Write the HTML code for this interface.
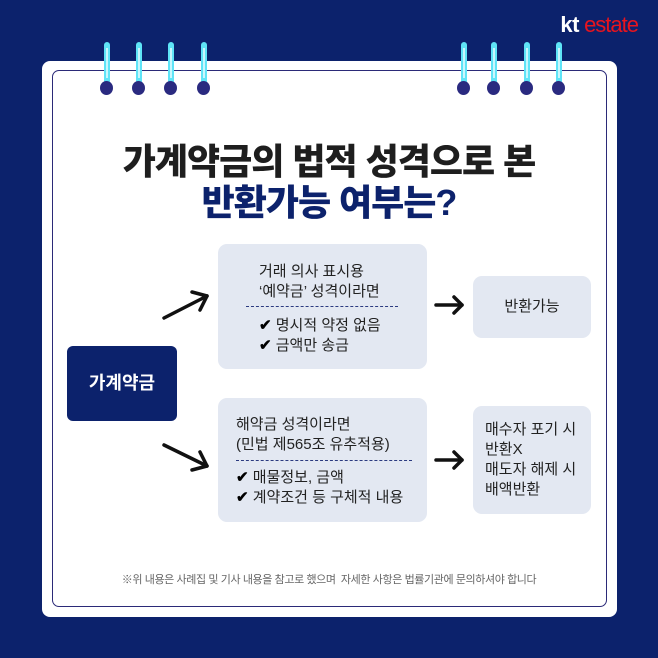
<!DOCTYPE html>
<html><head><meta charset="utf-8"><style>
body{margin:0;width:658px;height:658px;background:#0c226c;position:relative;overflow:hidden;font-family:"Liberation Sans","Noto Sans CJK KR",sans-serif}
.a{position:absolute}
.card{left:42px;top:61px;width:575px;height:556px;background:#fff;border-radius:8px}
.inner{left:52px;top:70px;width:553px;height:535px;border:1.5px solid #2b2a78;border-radius:7px}
.post{width:6px;height:46px;background:#5fe4f7;border-radius:3px;top:42px}
.post::after{content:"";position:absolute;left:2px;top:6px;width:2px;height:30px;background:#c8f6fd}
.ring{width:13px;height:14px;border-radius:50%;background:#2a2a80;top:81px}
.t{left:0;width:658px;text-align:center;font-weight:900;font-size:36px;letter-spacing:-1px}
.box{background:#e3e8f2;border-radius:9px}
.txt{font-size:15px;color:#222;line-height:20px}
.dash{border-top:1.5px dashed #2b3a80}
.ck{color:#000;font-weight:bold}
</style></head><body>
<div class="a" style="right:20px;top:12px;font-size:22px;font-weight:bold;letter-spacing:-0.5px"><span style="color:#fff">kt</span><span style="color:#e8141e;font-weight:normal;letter-spacing:-1px"> estate</span></div>
<div class="a card"></div>
<div class="a inner"></div>
<div class="a post" style="left:104px"></div><div class="a post" style="left:136px"></div><div class="a post" style="left:168px"></div><div class="a post" style="left:201px"></div>
<div class="a post" style="left:461px"></div><div class="a post" style="left:491px"></div><div class="a post" style="left:524px"></div><div class="a post" style="left:556px"></div>
<div class="a ring" style="left:100px"></div><div class="a ring" style="left:132px"></div><div class="a ring" style="left:164px"></div><div class="a ring" style="left:197px"></div>
<div class="a ring" style="left:457px"></div><div class="a ring" style="left:487px"></div><div class="a ring" style="left:520px"></div><div class="a ring" style="left:552px"></div>
<div class="a t" style="top:133px;color:#1e1e1e">가계약금의 법적 성격으로 본</div>
<div class="a t" style="top:174px;color:#0c226c">반환가능 여부는?</div>

<div class="a" style="left:67px;top:346px;width:110px;height:75px;background:#0c226c;border-radius:6px;color:#fff;font-weight:bold;font-size:18px;line-height:75px;text-align:center">가계약금</div>

<div class="a box" style="left:218px;top:244px;width:209px;height:125px"></div>
<div class="a txt" style="left:259px;top:262px">거래 의사 표시용<br>‘예약금’ 성격이라면</div>
<div class="a dash" style="left:246px;top:306px;width:152px"></div>
<div class="a txt" style="left:259px;top:316px"><span class="ck">✔</span> 명시적 약정 없음<br><span class="ck">✔</span> 금액만 송금</div>

<div class="a box" style="left:473px;top:276px;width:118px;height:62px"></div>
<div class="a txt" style="left:473px;top:297px;width:118px;text-align:center">반환가능</div>

<div class="a box" style="left:218px;top:398px;width:209px;height:124px"></div>
<div class="a txt" style="left:236px;top:415px">해약금 성격이라면<br>(민법 제565조 유추적용)</div>
<div class="a dash" style="left:236px;top:460px;width:176px"></div>
<div class="a txt" style="left:236px;top:468px"><span class="ck">✔</span> 매물정보, 금액<br><span class="ck">✔</span> 계약조건 등 구체적 내용</div>

<div class="a box" style="left:473px;top:406px;width:118px;height:108px"></div>
<div class="a txt" style="left:485px;top:420px">매수자 포기 시<br>반환X<br>매도자 해제 시<br>배액반환</div>

<svg class="a" style="left:0;top:0" width="658" height="658">
<g stroke="#111" stroke-width="3.5" fill="none" stroke-linecap="round" stroke-linejoin="round">
<line x1="164" y1="318" x2="207" y2="296"/><polyline points="192,292 207,296 200,310"/>
<line x1="164" y1="445" x2="207" y2="466"/><polyline points="200,452 207,466 192,470"/>
<line x1="436" y1="305" x2="462" y2="305"/><polyline points="454,297 462,305 454,313"/>
<line x1="436" y1="460" x2="462" y2="460"/><polyline points="454,452 462,460 454,468"/>
</g></svg>

<div class="a" style="left:0;width:658px;top:571px;text-align:center;font-size:11px;color:#666;letter-spacing:-0.4px">※위 내용은 사례집 및 기사 내용을 참고로 했으며 &nbsp;자세한 사항은 법률기관에 문의하셔야 합니다</div>
</body></html>
